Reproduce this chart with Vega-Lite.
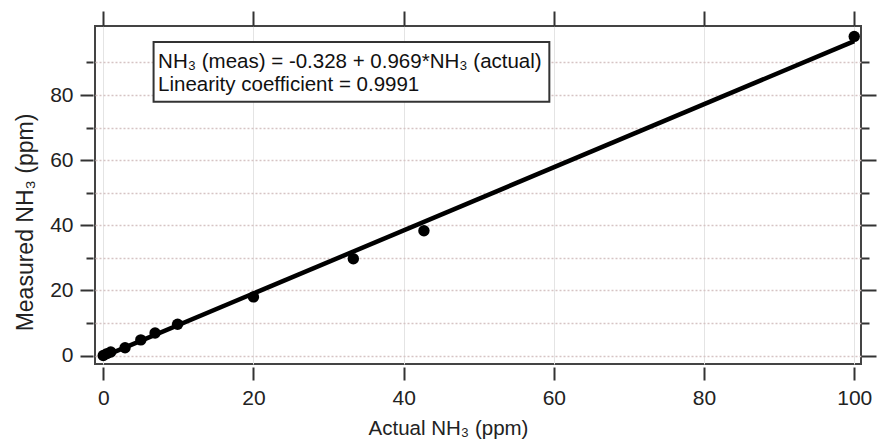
{
  "$schema": "https://vega.github.io/schema/vega-lite/v6.json",
  "width": 766,
  "height": 338,
  "autosize": {"type": "none"},
  "padding": {"left": 95, "top": 26, "right": 30, "bottom": 83},
  "background": "white",
  "config": {
    "font": "Liberation Sans",
    "view": {"stroke": "#444444", "strokeWidth": 2},
    "axis": {"labelFont": "Liberation Sans", "titleFont": "Liberation Sans", "labelColor": "#222222", "titleColor": "#222222", "tickColor": "#333333", "tickWidth": 2, "domain": false, "labelFontSize": 21, "titleFontSize": 20.5, "titleFontWeight": "normal"}
  },
  "datasets": {
    "points": [
      {"actual": 0, "measured": 0},
      {"actual": 0.5, "measured": 0.6},
      {"actual": 1, "measured": 1.1},
      {"actual": 2.9, "measured": 2.4},
      {"actual": 5, "measured": 4.8},
      {"actual": 6.9, "measured": 6.9},
      {"actual": 9.9, "measured": 9.6},
      {"actual": 20, "measured": 18},
      {"actual": 33.3, "measured": 29.7},
      {"actual": 42.7, "measured": 38.3},
      {"actual": 100, "measured": 98}
    ],
    "fit": [
      {"actual": 0, "measured": -0.328},
      {"actual": 100, "measured": 96.572}
    ],
    "box": [
      {"x1": 6.7, "x2": 59.4, "y1": 77.9, "y2": 96.3}
    ],
    "labels": [
      {"x": 7.3, "y": 90.1, "text": "NH₃ (meas) = -0.328 + 0.969*NH₃ (actual)"},
      {"x": 7.3, "y": 83.1, "text": "Linearity coefficient = 0.9991"}
    ]
  },
  "layer": [
    {
      "data": {"name": "points"},
      "mark": {"type": "point", "filled": true, "color": "black", "opacity": 1, "size": 130},
      "encoding": {
        "x": {
          "field": "actual", "type": "quantitative",
          "scale": {"domain": [-1.1, 100.9], "nice": false, "zero": false},
          "axis": {
            "orient": "bottom", "values": [0, 20, 40, 60, 80, 100], "title": "Actual NH₃ (ppm)",
            "offset": 3, "tickSize": 13, "labelPadding": 7,
            "titlePadding": 10, "titleX": 353,
            "grid": true, "gridColor": "#e4e4e4", "gridWidth": 1
          }
        },
        "y": {
          "field": "measured", "type": "quantitative",
          "scale": {"domain": [-2.6, 101.2], "nice": false, "zero": false},
          "axis": {
            "orient": "left", "values": [0, 10, 20, 30, 40, 50, 60, 70, 80, 90], "title": "Measured NH₃ (ppm)",
            "labelExpr": "datum.value % 20 === 0 ? datum.label : ''",
            "offset": 2,
            "tickSize": {"condition": {"test": "datum.value % 20 === 0", "value": 13}, "value": 7},
            "labelPadding": 7,
            "titlePadding": 12, "titleFontSize": 23, "titleY": 196,
            "grid": true, "gridColor": "#d6c4c4", "gridDash": [2, 2], "gridWidth": 1.5
          }
        }
      }
    },
    {
      "data": {"name": "fit"},
      "mark": {"type": "line", "color": "black", "strokeWidth": 4.5},
      "encoding": {
        "x": {
          "field": "actual", "type": "quantitative",
          "axis": {"orient": "top", "values": [0, 20, 40, 60, 80, 100], "title": null, "labels": false, "tickSize": 15, "grid": false}
        },
        "y": {
          "field": "measured", "type": "quantitative",
          "axis": {
            "orient": "right", "values": [0, 10, 20, 30, 40, 50, 60, 70, 80, 90], "title": null, "labels": false, "grid": false,
            "tickSize": {"condition": {"test": "datum.value % 20 === 0", "value": 15}, "value": 8}
          }
        }
      }
    },
    {
      "data": {"name": "box"},
      "mark": {"type": "rect", "fill": "white", "stroke": "#333333", "strokeWidth": 2},
      "encoding": {
        "x": {"field": "x1", "type": "quantitative", "axis": null},
        "x2": {"field": "x2"},
        "y": {"field": "y1", "type": "quantitative", "axis": null},
        "y2": {"field": "y2"}
      }
    },
    {
      "data": {"name": "labels"},
      "mark": {"type": "text", "align": "left", "baseline": "middle", "fontSize": 20.5, "font": "Liberation Sans", "color": "#111111"},
      "encoding": {
        "x": {"field": "x", "type": "quantitative", "axis": null},
        "y": {"field": "y", "type": "quantitative", "axis": null},
        "text": {"field": "text"}
      }
    }
  ]
}
